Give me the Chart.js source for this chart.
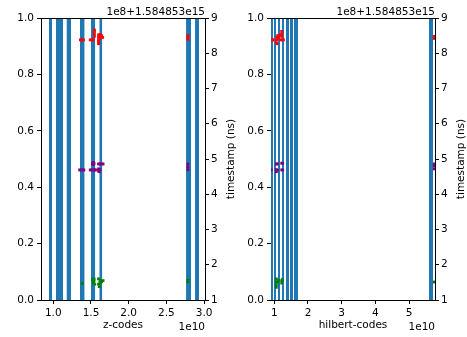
<!DOCTYPE html>
<html>
<head>
<meta charset="utf-8">
<script src="https://cdn.jsdelivr.net/npm/chart.js@4.4.0/dist/chart.umd.min.js"></script>
<style>
  body { margin: 0; background: #fff; }
  #wrap { position: relative; width: 467px; height: 337px; }
  canvas { position: absolute; top: 0; }
</style>
</head>
<body>
<div id="wrap">
  <canvas id="zChart" width="240" height="337" style="left:0px"></canvas>
  <canvas id="hChart" width="227" height="337" style="left:240px"></canvas>
</div>
<script>
// code ranges (x, in 1e10) covered by the blue bars
const zBarLo = [0.943, 1.036, 1.175, 1.354, 1.500, 1.610, 2.761, 2.880];
const zBarHi = [0.983, 1.129, 1.235, 1.416, 1.557, 1.650, 2.827, 2.933];
const hBarLo = [0.880, 0.991, 1.110, 1.230, 1.347, 1.466, 1.585, 5.594];
const hBarHi = [0.961, 1.050, 1.170, 1.290, 1.437, 1.555, 1.704, 5.713];

// [code (1e10), timestamp (1e8 ns, offset 1.584853e15)]
const zRed = [[1.36,8.38],[1.38,8.38],[1.40,8.38],[1.49,8.38],[1.51,8.38],[1.53,8.38],
  [1.545,8.48],[1.545,8.55],[1.545,8.62],[1.545,8.66],[1.60,8.52],[1.62,8.53],[1.64,8.50],
  [1.655,8.45],[1.60,8.45],[1.60,8.38],[1.60,8.32],[1.60,8.27],[1.62,8.42],
  [2.785,8.40],[2.785,8.46],[2.785,8.50]];
const zPurple = [[1.35,4.69],[1.37,4.69],[1.39,4.69],[1.405,4.69],[1.49,4.69],[1.51,4.69],
  [1.53,4.69],[1.55,4.69],[1.56,4.69],[1.52,4.87],[1.54,4.87],[1.53,4.84],[1.53,4.90],
  [1.60,4.86],[1.62,4.86],[1.64,4.86],[1.66,4.86],[1.60,4.72],[1.60,4.66],[1.62,4.70],
  [1.61,4.64],[2.785,4.70],[2.785,4.78],[2.785,4.86]];
const zGreen = [[1.385,1.47],[1.52,1.58],[1.54,1.55],[1.53,1.48],[1.55,1.45],[1.54,1.60],
  [1.60,1.60],[1.62,1.55],[1.64,1.52],[1.66,1.55],[1.60,1.45],[1.61,1.38],[1.62,1.48],
  [2.785,1.52],[2.785,1.56]];

const hRed = [[0.91,8.38],[0.94,8.38],[0.96,8.38],[1.06,8.30],[1.06,8.38],[1.08,8.45],
  [1.10,8.50],[1.12,8.40],[1.14,8.48],[1.16,8.52],[1.08,8.27],[1.22,8.48],[1.22,8.55],
  [1.22,8.62],[1.21,8.38],[1.24,8.38],[1.27,8.38],[5.75,8.42],[5.75,8.48]];
const hPurple = [[0.91,4.69],[1.06,4.86],[1.09,4.86],[1.06,4.70],[1.06,4.64],[1.09,4.68],
  [1.22,4.88],[1.22,4.69],[1.25,4.69],[1.25,4.88],[5.75,4.72],[5.75,4.80],[5.75,4.86]];
const hGreen = [[1.06,1.60],[1.06,1.52],[1.06,1.42],[1.06,1.36],[1.09,1.50],[1.12,1.55],
  [1.22,1.55],[1.22,1.48],[1.24,1.58],[5.75,1.51]];

const zTicks = [1.0, 1.5, 2.0, 2.5, 3.0];
const hTicks = [1, 2, 3, 4, 5];
const leftTicks = [0.0, 0.2, 0.4, 0.6, 0.8, 1.0];
const timeTicks = [1, 2, 3, 4, 5, 6, 7, 8, 9];

const FONT = { family: 'DejaVu Sans', size: 10.5 };
Chart.defaults.font.family = FONT.family;
Chart.defaults.font.size = FONT.size;
Chart.defaults.color = '#000';

// top spine, offset text, exponent and right-hand axis label
const extras = {
  id: 'extras',
  afterDraw(chart, args, opts) {
    const ctx = chart.ctx, a = chart.chartArea;
    ctx.save();
    ctx.strokeStyle = '#000';
    ctx.lineWidth = 1;
    ctx.beginPath();
    ctx.moveTo(a.left, Math.round(a.top) + 0.5);
    ctx.lineTo(a.right, Math.round(a.top) + 0.5);
    ctx.stroke();
    ctx.fillStyle = '#000';
    ctx.font = FONT.size + 'px "' + FONT.family + '"';
    ctx.textAlign = 'right';
    ctx.textBaseline = 'alphabetic';
    ctx.fillText(opts.offset, a.right, a.top - 3);
    ctx.fillText(opts.exponent, a.right, 329.5);
    ctx.translate(a.right + 26, (a.top + a.bottom) / 2);
    ctx.rotate(-Math.PI / 2);
    ctx.textAlign = 'center';
    ctx.textBaseline = 'middle';
    ctx.fillText(opts.rightTitle, 0, 0);
    ctx.restore();
  }
};

function pts(list) {
  return list.map(p => ({ x: p[0], y: p[1] }));
}

function makeChart(id, lo, hi, red, purple, green, xMin, xMax, xTicks, digits, xTitle, leftW, rightW) {
  const datasets = [];
  [[red, 'red'], [purple, 'purple'], [green, 'green']].forEach(([list, col]) => {
    datasets.push({
      data: pts(list), yAxisID: 'y2', showLine: false, order: 0,
      pointStyle: 'rect', pointRadius: 2, pointBorderWidth: 0,
      pointBackgroundColor: col, pointBorderColor: col
    });
  });
  for (let i = 0; i < lo.length; i++) {
    datasets.push({
      data: [{ x: lo[i], y: 1 }, { x: hi[i], y: 1 }], yAxisID: 'y', order: 1,
      fill: 'origin', backgroundColor: '#1f77b4', borderColor: 'rgba(0,0,0,0)',
      borderWidth: 0, pointRadius: 0
    });
  }
  const tickOpts = { tickLength: 4, drawOnChartArea: false, color: '#000', tickColor: '#000' };
  return new Chart(document.getElementById(id), {
    type: 'line',
    data: { datasets },
    options: {
      responsive: false,
      animation: false,
      events: [],
      layout: { padding: { top: 18, left: 0, right: 0, bottom: 0 } },
      plugins: {
        legend: { display: false },
        tooltip: { enabled: false },
        extras: { offset: '1e8+1.584853e15', exponent: '1e10', rightTitle: 'timestamp (ns)' }
      },
      scales: {
        x: {
          type: 'linear', min: xMin, max: xMax,
          afterBuildTicks: s => { s.ticks = xTicks.map(v => ({ value: v })); },
          afterFit: s => { s.height = 37; },
          ticks: { callback: v => v.toFixed(digits), maxRotation: 0, autoSkip: false, padding: 3 },
          grid: tickOpts,
          border: { color: '#000', width: 1 },
          title: { display: true, text: xTitle, padding: { top: 0, bottom: 5 } }
        },
        y: {
          position: 'left', min: 0, max: 1,
          afterBuildTicks: s => { s.ticks = leftTicks.map(v => ({ value: v })); },
          afterFit: s => { s.width = leftW; },
          ticks: { callback: v => v.toFixed(1), padding: 3 },
          grid: tickOpts,
          border: { color: '#000', width: 1 }
        },
        y2: {
          position: 'right', min: 1, max: 9,
          afterBuildTicks: s => { s.ticks = timeTicks.map(v => ({ value: v })); },
          afterFit: s => { s.width = rightW; },
          ticks: { callback: v => String(v), padding: 2 },
          grid: tickOpts,
          border: { color: '#000', width: 1 }
        }
      }
    },
    plugins: [extras]
  });
}

makeChart('zChart', zBarLo, zBarHi, zRed, zPurple, zGreen, 0.837, 3.012, zTicks, 1, 'z-codes', 41, 35);
makeChart('hChart', hBarLo, hBarHi, hRed, hPurple, hGreen, 0.902, 5.772, hTicks, 0, 'hilbert-codes', 31, 32);
</script>
</body>
</html>
